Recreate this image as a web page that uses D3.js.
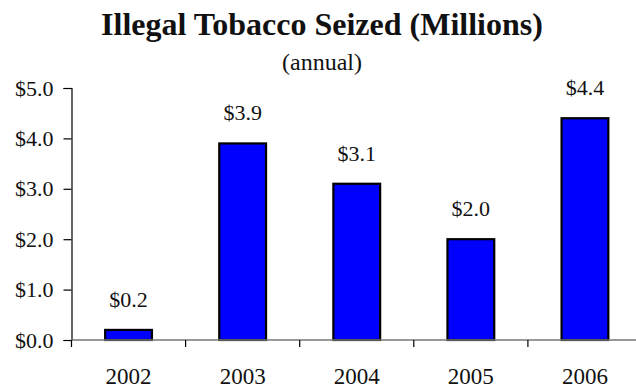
<!DOCTYPE html>
<html>
<head>
<meta charset="utf-8">
<script src="https://cdn.jsdelivr.net/npm/d3@7"></script>
<style>
  html, body { margin: 0; padding: 0; background: #fff; }
  svg { display: block; }
  text { font-family: "Liberation Serif", "DejaVu Serif", serif; fill: #111; }
</style>
</head>
<body>
<svg id="chart" width="636" height="391"></svg>
<script>
// Annual value of illegal tobacco seized, in millions of dollars
const years = ["2002", "2003", "2004", "2005", "2006"];
const seized = [0.2, 3.9, 3.1, 2.0, 4.4];
const yTicks = [0, 1, 2, 3, 4, 5];

const svg = d3.select("#chart");
const W = 636, H = 391;
const plotLeft = 71.5, plotTop = 88, plotBottom = 340;
const step = 114.1;
const serif = "'Liberation Serif', 'DejaVu Serif', serif";

const x = d3.scaleBand()
  .domain(years)
  .range([plotLeft, plotLeft + step * years.length])
  .paddingInner(0.59)
  .paddingOuter(0.295);

const y = d3.scaleLinear().domain([0, 5]).range([plotBottom, plotTop]);

const fmt = v => "$" + d3.format(".1f")(v);

// Title
svg.append("text")
  .attr("x", 322).attr("y", 35)
  .attr("text-anchor", "middle")
  .style("font-family", serif)
  .style("font-size", "32px").style("font-weight", "bold")
  .attr("fill", "#000")
  .text("Illegal Tobacco Seized (Millions)");
svg.append("text")
  .attr("x", 322).attr("y", 70)
  .attr("text-anchor", "middle")
  .style("font-family", serif)
  .style("font-size", "24px")
  .attr("fill", "#111")
  .text("(annual)");

// Y axis
const yAxis = d3.axisLeft(y).tickValues(yTicks).tickFormat(fmt).tickSize(8).tickPadding(10);
const gy = svg.append("g").attr("transform", `translate(${plotLeft},0)`).call(yAxis);
gy.select(".domain").attr("stroke", "#000").attr("stroke-width", 1.2);
gy.selectAll(".tick line").attr("stroke", "#000").attr("stroke-width", 1.2);
gy.selectAll(".tick text")
  .style("font-size", "22px")
  .style("font-family", serif)
  .attr("fill", "#222");

// Bars
svg.append("g").selectAll("rect")
  .data(years.map((yr, i) => ({ yr, v: seized[i] })))
  .join("rect")
  .attr("x", d => x(d.yr))
  .attr("width", x.bandwidth())
  .attr("y", d => y(d.v))
  .attr("height", d => y(0) - y(d.v))
  .attr("fill", "#0000ff")
  .attr("stroke", "#000")
  .attr("stroke-width", 2.2);

// Value labels
svg.append("g").selectAll("text")
  .data(years.map((yr, i) => ({ yr, v: seized[i] })))
  .join("text")
  .attr("x", d => x(d.yr) + x.bandwidth() / 2)
  .attr("y", d => y(d.v) - 23)
  .attr("text-anchor", "middle")
  .style("font-family", serif)
  .style("font-size", "22px")
  .attr("fill", "#222")
  .text(d => fmt(d.v));

// X axis: grey baseline with category-boundary ticks
const gx = svg.append("g");
gx.append("line")
  .attr("x1", plotLeft).attr("x2", W)
  .attr("y1", y(0)).attr("y2", y(0))
  .attr("stroke", "#777").attr("stroke-width", 1.5);
const bounds = d3.range(years.length + 1).map(i => plotLeft + i * step);
gx.selectAll("line.tk")
  .data(bounds)
  .join("line").attr("class", "tk")
  .attr("x1", d => d).attr("x2", d => d)
  .attr("y1", y(0)).attr("y2", y(0) + 7)
  .attr("stroke", "#000").attr("stroke-width", 1.2);
gx.selectAll("text")
  .data(years)
  .join("text")
  .attr("x", d => x(d) + x.bandwidth() / 2)
  .attr("y", 384)
  .attr("text-anchor", "middle")
  .style("font-family", serif)
  .style("font-size", "23px")
  .attr("fill", "#222")
  .text(d => d);
</script>
</body>
</html>
